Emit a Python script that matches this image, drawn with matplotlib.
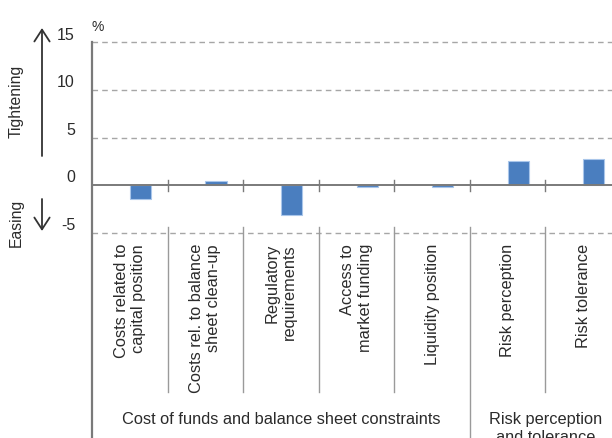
import numpy as np
import matplotlib
matplotlib.use("Agg")
import matplotlib.pyplot as plt
from matplotlib.transforms import blended_transform_factory
from matplotlib.lines import Line2D
from matplotlib.patches import FancyArrowPatch

categories = ["Costs related to\ncapital position",
              "Costs rel. to balance\nsheet clean-up",
              "Regulatory\nrequirements",
              "Access to\nmarket funding",
              "Liquidity position",
              "Risk perception",
              "Risk tolerance"]
values = [-1.4, 0.4, -3.1, -0.2, -0.2, 2.5, 2.8]
groups = ["Cost of funds and balance sheet constraints", "Risk perception\nand tolerance"]
group_centers = [2.5, 6.0]
yticks = [-5, 0, 5, 10, 15]

plt.rcParams['font.family'] = ['Liberation Sans', 'DejaVu Sans']
TXT = '#2b2b2b'
W, H = 612, 439
fig = plt.figure(figsize=(W/100, H/100), dpi=100)

def fy(px):
    return 1 - px / H

def fxp(px):
    return px / W

ax = fig.add_axes([92/W, fy(234), (621-92)/W, (234-43)/H])
ax.set_xlim(0, 7)
ax.set_ylim(-5, 15)
ax.axis('off')

# gridlines
for t in [15, 10, 5, -5]:
    ax.axhline(t, color='#a6a6a6', lw=1, ls=(0, (4, 3)), zorder=1, clip_on=False)
# bars
x = np.arange(len(values)) + 0.5
ax.bar(x, values, width=0.28, align='edge', color='#4a7ebf',
       edgecolor='#a9c6ea', linewidth=0.8, zorder=3)
# zero line
ax.axhline(0, color='#7a7a7a', lw=1.4, zorder=4)

trans = blended_transform_factory(ax.transData, fig.transFigure)
# tick marks on zero line
for b in range(1, 7):
    ax.add_line(Line2D([b, b], [fy(181), fy(192)], transform=trans,
                       color='#7a7a7a', lw=1, clip_on=False))
# separators below
for b in range(1, 7):
    bottom = 439 if b == 5 else 393
    ax.add_line(Line2D([b, b], [fy(228), fy(bottom)], transform=trans,
                       color='#9a9a9a', lw=1, clip_on=False))
# left spine
ax.add_line(Line2D([0, 0], [fy(43), fy(439)], transform=trans,
                   color='#7a7a7a', lw=1.6, clip_on=False))

# y tick labels
for t in yticks:
    ypx = 186 - t * 9.53 - 8
    fig.text(fxp(75), fy(ypx), str(t), ha='right', va='center',
             fontsize=11.5, color=TXT)

fig.text(fxp(91), fy(27), '%', ha='left', va='center', fontsize=10, color=TXT)

# category labels
for i, c in enumerate(categories):
    ax.text(i + 0.5, fy(244), c, transform=trans, rotation=90, ha='center',
            va='top', multialignment='right', fontsize=11.8, color=TXT,
            linespacing=1.18)

# group labels (first line centred at y=420 px)
for g, gc in zip(groups, group_centers):
    ax.text(gc, fy(412), g, transform=trans, ha='center', va='top',
            fontsize=11.8, color=TXT, linespacing=1.25)

# arrows and side labels
fig.add_artist(FancyArrowPatch(
    (fxp(42), fy(157)), (fxp(42), fy(29)), transform=fig.transFigure,
    arrowstyle='->,head_length=8.5,head_width=5.5', color='#333333', lw=1.3,
    shrinkA=0, shrinkB=0))
fig.add_artist(FancyArrowPatch(
    (fxp(42), fy(200)), (fxp(42), fy(232)), transform=fig.transFigure,
    arrowstyle='->,head_length=8.5,head_width=5.5', color='#333333', lw=1.3,
    shrinkA=0, shrinkB=0))
fig.text(fxp(16), fy(101), 'Tightening', rotation=90, ha='center', va='center',
         fontsize=11.3, color=TXT)
fig.text(fxp(16), fy(223), 'Easing', rotation=90, ha='center', va='center',
         fontsize=11.3, color=TXT)

fig.savefig('out.png', dpi=100)
